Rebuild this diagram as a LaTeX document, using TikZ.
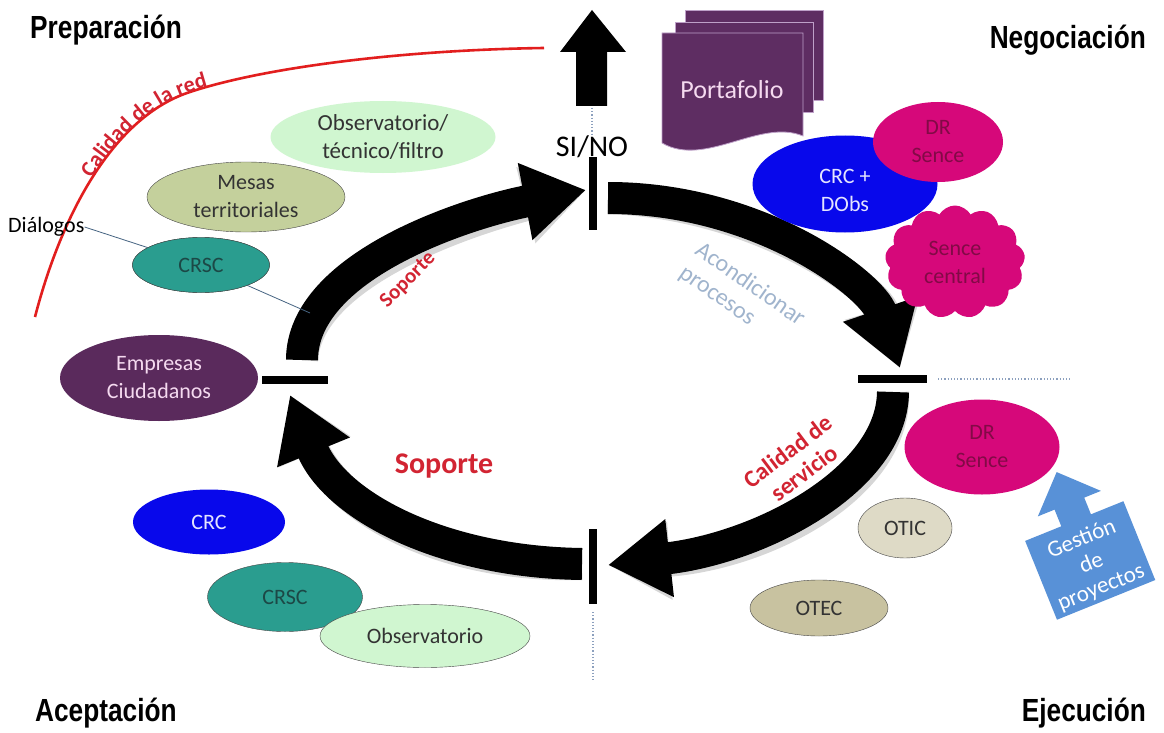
\documentclass[tikz,border=0pt]{standalone}
\usepackage{fontspec}
\setmainfont{Carlito}
\newfontfamily\titlefont[FakeStretch=0.82]{Liberation Sans}
\usetikzlibrary{arrows.meta,shapes.geometric,shapes.symbols,decorations.text}
\definecolor{obsg}{RGB}{208,246,208}
\definecolor{mesasg}{RGB}{196,208,156}
\definecolor{tealc}{RGB}{42,157,143}
\definecolor{tealtxt}{RGB}{28,72,70}
\definecolor{purp}{RGB}{90,42,92}
\definecolor{purptxt}{RGB}{245,218,240}
\definecolor{bluec}{RGB}{8,8,235}
\definecolor{bluetxt}{RGB}{228,228,255}
\definecolor{mag}{RGB}{214,8,122}
\definecolor{magtxt}{RGB}{130,10,70}
\definecolor{oticc}{RGB}{222,218,198}
\definecolor{otecc}{RGB}{200,194,160}
\definecolor{redtxt}{RGB}{210,36,50}
\definecolor{redline}{RGB}{226,30,30}
\definecolor{acond}{RGB}{160,180,205}
\definecolor{gestb}{RGB}{88,145,215}
\definecolor{dotc}{RGB}{140,160,190}
\definecolor{linec}{RGB}{70,100,130}
\definecolor{port}{RGB}{94,45,98}
\definecolor{portline}{RGB}{190,160,200}
\definecolor{edge}{RGB}{70,70,70}
\tikzset{
  ell/.style 2 args={ellipse, inner sep=0pt, minimum width=#1pt, minimum height=#2pt},
  etxt/.style={align=center, font=\fontsize{22}{28}\selectfont, inner sep=0pt},
  title/.style={font=\titlefont\bfseries\fontsize{32}{32}\selectfont, inner sep=0pt},
  ring/.style={line width=32pt, -{Triangle[length=62pt,width=74pt]}},
  ringshadow/.style={ring, draw=black, opacity=0.16, shift={(5,6)}},
  bar/.style={line width=7.5pt},
  dots/.style={dotc, dotted, line width=1.2pt},
  redlbl/.style={text=redtxt, font=\bfseries\fontsize{21}{24}\selectfont, align=center, inner sep=0pt},
}
\begin{document}
\begin{tikzpicture}[x=1pt,y=-1pt]
\useasboundingbox (0,0) rectangle (1164,733);
\fill[white] (0,0) rectangle (1164,733);

% titles
\node[title, anchor=west] (prep) at (30,30) {Preparación};
\node[title, anchor=east] (nego) at (1146,40) {Negociación};
\node[title, anchor=west] (acep) at (35,713) {Aceptación};
\node[title, anchor=east] (ejec) at (1146,713) {Ejecución};

% dotted guide lines
\coordinate (d1a) at (592,108); \coordinate (d1b) at (592,156);
\coordinate (d2a) at (593,612); \coordinate (d2b) at (593,682);
\coordinate (d3a) at (938,379); \coordinate (d3b) at (1070,379);
\draw[dots] (d1a) -- (d1b);
\draw[dots] (d2a) -- (d2b);
\draw[dots] (d3a) -- (d3b);

% up arrow
\fill[black] (560,52) -- (592,10) -- (626,52) -- (607,52) -- (607,106) -- (576,106) -- (576,52) -- cycle;

% red curve
\draw[redline, line width=2.6pt] (35,317) .. controls (60,220) and (110,120) .. (187,93) .. controls (260,68) and (400,50) .. (544,48);
\path[decorate, decoration={text along path, text={|\color{redtxt}\bfseries\fontsize{22}{22}\selectfont|Calidad de la red}, text align={left, left indent=150pt}, raise=0pt}] (35,317) .. controls (60,220) and (110,120) .. (187,93) .. controls (260,68) and (400,50) .. (544,48);

% SI/NO
\node[font=\fontsize{30}{30}\selectfont, inner sep=0pt] (sino) at (592,147) {SI/NO};

% bars
\coordinate (bt1) at (593,157); \coordinate (bt2) at (593,230);
\coordinate (bb1) at (593,529); \coordinate (bb2) at (593,604);
\coordinate (bl1) at (262,380); \coordinate (bl2) at (328,380);
\coordinate (br1) at (858,379); \coordinate (br2) at (927,379);
\draw[bar] (bt1) -- (bt2);
\draw[bar] (bb1) -- (bb2);
\draw[bar] (bl1) -- (bl2);
\draw[bar] (br1) -- (br2);

% ring arrows
\coordinate (a1s) at (302,360); \coordinate (a1e) at (586,190);
\coordinate (a2s) at (608,198); \coordinate (a2e) at (900,368);
\coordinate (a3s) at (893,392); \coordinate (a3e) at (608,565);
\coordinate (a4s) at (582,564); \coordinate (a4e) at (290,395);
\draw[ringshadow] (a1s) .. controls (302,265) and (470,212) .. (a1e);
\draw[ringshadow] (a2s) .. controls (760,198) and (872,285) .. (a2e);
\draw[ringshadow] (a3s) .. controls (892,480) and (760,548) .. (a3e);
\draw[ringshadow] (a4s) .. controls (440,562) and (335,505) .. (a4e);
\draw[ring] (a1s) .. controls (302,265) and (470,212) .. (a1e);
\draw[ring] (a2s) .. controls (760,198) and (872,285) .. (a2e);
\draw[ring] (a3s) .. controls (892,480) and (760,548) .. (a3e);
\draw[ring] (a4s) .. controls (440,562) and (335,505) .. (a4e);

% labels on ring
\node[redlbl, rotate=45] (sop1) at (408,280) {Soporte};
\node[redlbl, font=\bfseries\fontsize{30}{30}\selectfont] (sop2) at (444,466) {Soporte};
\node[redlbl, font=\bfseries\fontsize{24}{27}\selectfont, rotate=37] (calserv) at (796,462) {Calidad de\\servicio};
\node[text=acond, font=\fontsize{24}{28}\selectfont, align=left, inner sep=0pt, rotate=-35] (acondn) at (742,296) {Acondicionar\\procesos};

% left side nodes
\node[ell={225}{72}, fill=obsg] (obs1) at (383,137) {};
\node[etxt, font=\fontsize{23}{28}\selectfont, text=black!80] (obs1t) at (obs1) {Observatorio/\\técnico/filtro};
\node[ell={198}{70}, fill=mesasg, draw=edge] (mesas) at (246,197) {};
\node[etxt, text=black!80] (mesast) at (mesas) {Mesas\\territoriales};
\node[ell={137}{55}, fill=tealc, draw=edge] (crsc1) at (201,265) {};
\node[etxt, anchor=west] (dial) at (8,227) {Diálogos};
\coordinate (dl2) at (310,313);
\draw[linec, line width=0.8pt] (dial.east) -- (crsc1);
\draw[linec, line width=0.8pt] (crsc1) -- (dl2);
\node[ell={137}{55}, fill=tealc, draw=edge] (crsc1b) at (201,265) {};
\node[etxt, text=tealtxt] (crsc1t) at (crsc1) {CRSC};
\node[ell={198}{86}, fill=purp] (emp) at (159,378) {};
\node[etxt, text=purptxt] (empt) at (emp) {Empresas\\Ciudadanos};

% bottom left nodes
\node[ell={152}{65}, fill=bluec] (crc2) at (209,522) {};
\node[etxt, text=bluetxt] (crc2t) at (crc2) {CRC};
\node[ell={155}{69}, fill=tealc, draw=edge] (crsc2) at (285,597) {};
\node[etxt, text=tealtxt] (crsc2t) at (crsc2) {CRSC};
\node[ell={210}{63}, fill=obsg, draw=edge] (obs2) at (425,636) {};
\node[etxt, text=black!80] (obs2t) at (obs2) {Observatorio};

% portafolio
\filldraw[fill=port, draw=portline, line width=0.8pt] (685,10) rectangle (823,100);
\filldraw[fill=port, draw=portline, line width=0.8pt] (675,22) rectangle (813,112);
\filldraw[fill=port, draw=portline, line width=0.8pt] (662,33) -- (803,33) -- (803,136) .. controls (760,118) and (705,168) .. (662,143) -- cycle;
\node[etxt, font=\fontsize{26}{28}\selectfont, text=purptxt] (port) at (732,90) {Portafolio};

% top right nodes
\node[ell={185}{97}, fill=bluec] (crcd) at (845,184) {};
\node[etxt, text=bluetxt] (crcdt) at (845,190) {CRC +\\DObs};
\node[ell={130}{80}, fill=mag] (dr1) at (938,142) {};
\node[etxt, text=magtxt] (dr1t) at (dr1) {DR\\Sence};
\node[cloud, cloud puffs=13, cloud puff arc=120, aspect=1.2, inner sep=0pt, minimum width=140pt, minimum height=113pt, fill=mag] (sc) at (955,262) {};
\node[etxt, text=magtxt] (sct) at (sc) {Sence\\central};

% bottom right nodes
\node[ell={155}{95}, fill=mag] (dr2) at (982,447) {};
\node[etxt, text=magtxt] (dr2t) at (dr2) {DR\\Sence};
\node[ell={94}{60}, fill=oticc, draw=edge] (otic) at (905,528) {};
\node[etxt, text=black!80] (otict) at (otic) {OTIC};
\node[ell={138}{56}, fill=otecc, draw=edge] (otec) at (819,608) {};
\node[etxt, text=black!80] (otect) at (otec) {OTEC};

% gestion de proyectos
\begin{scope}[shift={(1090,560)}, rotate=22]
\fill[gestb] (-53,-42) -- (-14,-42) -- (-14,-60) -- (-32,-60) -- (2,-94) -- (36,-60) -- (18,-60) -- (18,-42) -- (53,-42) -- (53,43) -- (-53,43) -- cycle;
\node[etxt, text=white, font=\fontsize{23}{26}\selectfont, rotate=22] (gest) at (0,4) {Gestión\\de\\proyectos};
\end{scope}
\end{tikzpicture}
\end{document}
